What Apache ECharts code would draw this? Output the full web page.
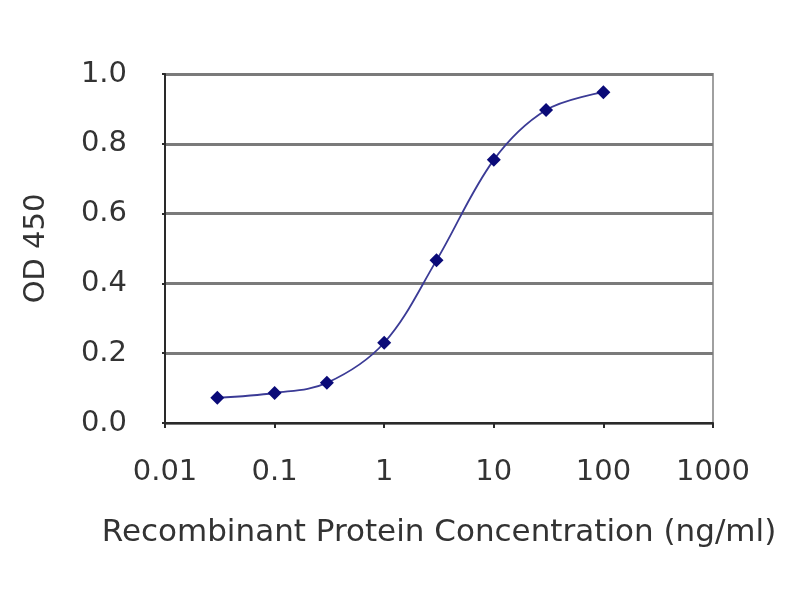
<!DOCTYPE html>
<html>
<head>
<meta charset="utf-8">
<script src="https://cdn.jsdelivr.net/npm/echarts@6/dist/echarts.min.js"></script>
<style>
  html, body { margin: 0; padding: 0; background: #fff; }
  #chart { width: 800px; height: 600px; }
</style>
</head>
<body>
<div id="chart"></div>
<script>
// concentrations (ng/ml) and OD 450 readings
var concentrations = [0.03, 0.1, 0.3, 1, 3, 10, 30, 100];
var odValues = [0.072, 0.086, 0.115, 0.23, 0.466, 0.754, 0.897, 0.948];
var xAxisTitle = 'Recombinant Protein Concentration (ng/ml)';
var yAxisTitle = 'OD 450';

var points = concentrations.map(function (c, i) {
  return [c, odValues[i]];
});

var myChart = echarts.init(document.getElementById('chart'));
var textColor = '#333';
var fontFamily = 'DejaVu Sans';

var option = {
  backgroundColor: '#fff',
  animation: false,
  grid: {
    left: 165,
    top: 74,
    right: 87,
    bottom: 177,
    show: true,
    borderColor: '#a0a0a0',
    borderWidth: 2,
    backgroundColor: '#fff'
  },
  xAxis: {
    type: 'log',
    logBase: 10,
    min: 0.01,
    max: 1000,
    name: xAxisTitle,
    nameLocation: 'middle',
    nameGap: 94,
    nameTextStyle: { color: textColor, fontSize: 31, fontFamily: fontFamily },
    axisLine: { show: true, lineStyle: { color: '#2a2a2a', width: 2 } },
    axisTick: { show: true, inside: false, length: 5, lineStyle: { color: '#2a2a2a', width: 2 } },
    axisLabel: {
      color: textColor,
      fontSize: 29,
      fontFamily: fontFamily,
      margin: 35,
      formatter: function (v) {
        return String(Math.round(v * 1000) / 1000);
      }
    },
    splitLine: { show: false },
    minorTick: { show: false }
  },
  yAxis: {
    type: 'value',
    min: 0,
    max: 1,
    interval: 0.2,
    name: yAxisTitle,
    nameLocation: 'middle',
    nameGap: 114,
    nameTextStyle: { color: textColor, fontSize: 29, fontFamily: fontFamily },
    axisLine: { show: true, lineStyle: { color: '#2a2a2a', width: 2 } },
    axisTick: { show: true, inside: false, length: 3, lineStyle: { color: '#2a2a2a', width: 2 } },
    axisLabel: {
      color: textColor,
      fontSize: 29,
      fontFamily: fontFamily,
      margin: 38,
      formatter: function (v) { return v.toFixed(1); }
    },
    splitLine: { show: true, lineStyle: { color: '#7a7a7a', width: 3 } }
  },
  series: [{
    type: 'line',
    data: points,
    smooth: 0.35,
    symbol: 'diamond',
    symbolSize: 14,
    itemStyle: { color: '#0a0a78' },
    lineStyle: { color: '#3b3b96', width: 1.8 },
    z: 5
  }]
};
myChart.setOption(option);
</script>
</body>
</html>
